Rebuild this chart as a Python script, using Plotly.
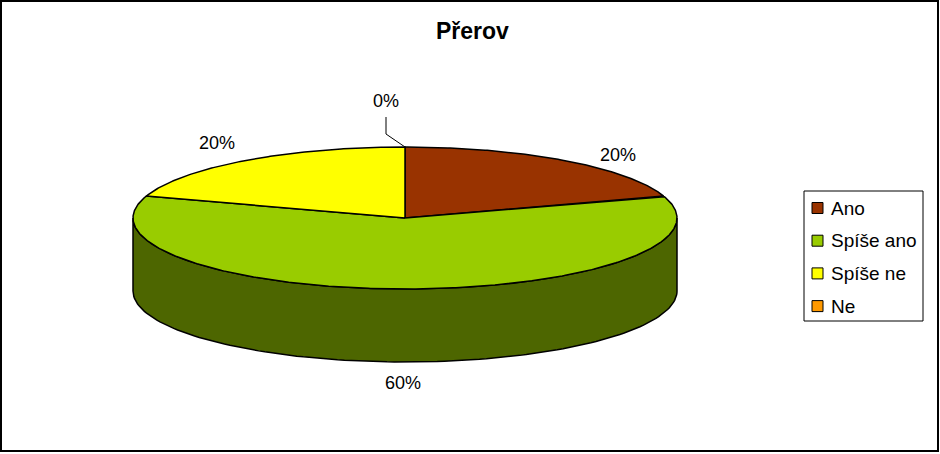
import numpy as np
import plotly.graph_objects as go

categories = ["Ano", "Spíše ano", "Spíše ne", "Ne"]
values = [20, 60, 20, 0]
labels = ["20%", "60%", "20%", "0%"]
colors = ["#993300", "#99CC00", "#FFFF00", "#FF9900"]
side_colors = ["#4D1A00", "#4D6600", "#808000", "#804D00"]

W, H = 940, 454
cx, cy, rx, ry, depth = 405, 218, 272, 71, 73

def pt(theta_deg, dy=0.0):
    t = np.radians(theta_deg)
    return cx + rx * np.sin(t), cy - ry * np.cos(t) + dy

fig = go.Figure()
total = sum(values)
starts = np.cumsum([0] + values[:-1]) / total * 360
ends = np.cumsum(values) / total * 360

# sides (front half: 90..270 deg)
for i, (a, b) in enumerate(zip(starts, ends)):
    lo, hi = max(a, 90), min(b, 270)
    if hi <= lo:
        continue
    th = np.linspace(lo, hi, 120)
    xt, yt = pt(th)
    xb, yb = pt(th[::-1], depth)
    xs = np.concatenate([xt, xb, xt[:1]])
    ys = np.concatenate([yt, yb, yt[:1]])
    fig.add_trace(go.Scatter(x=xs, y=ys, mode="lines", fill="toself",
                             fillcolor=side_colors[i], line=dict(color="black", width=1.5),
                             hoverinfo="skip", showlegend=False))

# tops
for i, (a, b) in enumerate(zip(starts, ends)):
    if b - a <= 0:
        continue
    th = np.linspace(a, b, max(int((b - a) * 2), 4))
    xa, ya = pt(th)
    xs = np.concatenate([[cx], xa, [cx]])
    ys = np.concatenate([[cy], ya, [cy]])
    fig.add_trace(go.Scatter(x=xs, y=ys, mode="lines", fill="toself",
                             fillcolor=colors[i], line=dict(color="black", width=1.5),
                             hoverinfo="skip", showlegend=False))

# leader line for 0%
fig.add_trace(go.Scatter(x=[386, 386, cx], y=[117, 134, cy - ry], mode="lines",
                         line=dict(color="black", width=1), hoverinfo="skip", showlegend=False))

FONT = "Liberation Sans, Arial"
label_pos = [(618, 155), (403, 383), (217, 143), (386, 101)]
annotations = []
for (x, y), t in zip(label_pos, labels):
    annotations.append(dict(x=x, y=y, xref="x", yref="y", text=t, showarrow=False,
                            font=dict(family=FONT, size=18, color="black")))

annotations.append(dict(x=472, y=31, xref="x", yref="y", text="<b>Přerov</b>", showarrow=False,
                        font=dict(family=FONT, size=23, color="black")))

shapes = [
    dict(type="rect", x0=1, y0=1, x1=938, y1=451, xref="x", yref="y",
         line=dict(color="black", width=2), fillcolor="rgba(0,0,0,0)", layer="below"),
    dict(type="rect", x0=804, y0=191, x1=923, y1=321, xref="x", yref="y",
         line=dict(color="black", width=1), fillcolor="white", layer="above"),
]
for i, c in enumerate(categories):
    yc = 208 + i * 32.7
    shapes.append(dict(type="rect", x0=812, y0=yc - 5.5, x1=823, y1=yc + 5.5, xref="x", yref="y",
                       line=dict(color="black", width=1), fillcolor=colors[i], layer="above"))
    annotations.append(dict(x=829, y=yc, xref="x", yref="y", text=c, showarrow=False,
                            xanchor="left", yanchor="middle",
                            font=dict(family=FONT, size=19, color="black")))

fig.update_layout(
    width=W, height=H, margin=dict(l=0, r=0, t=0, b=0),
    paper_bgcolor="white", plot_bgcolor="white",
    xaxis=dict(range=[0, W], visible=False, fixedrange=True),
    yaxis=dict(range=[H, 0], visible=False, fixedrange=True),
    shapes=shapes, annotations=annotations, showlegend=False,
)
fig.write_html("out.html", config={"displayModeBar": False},
               post_script="document.body.style.margin='0';document.body.style.overflow='hidden';")
